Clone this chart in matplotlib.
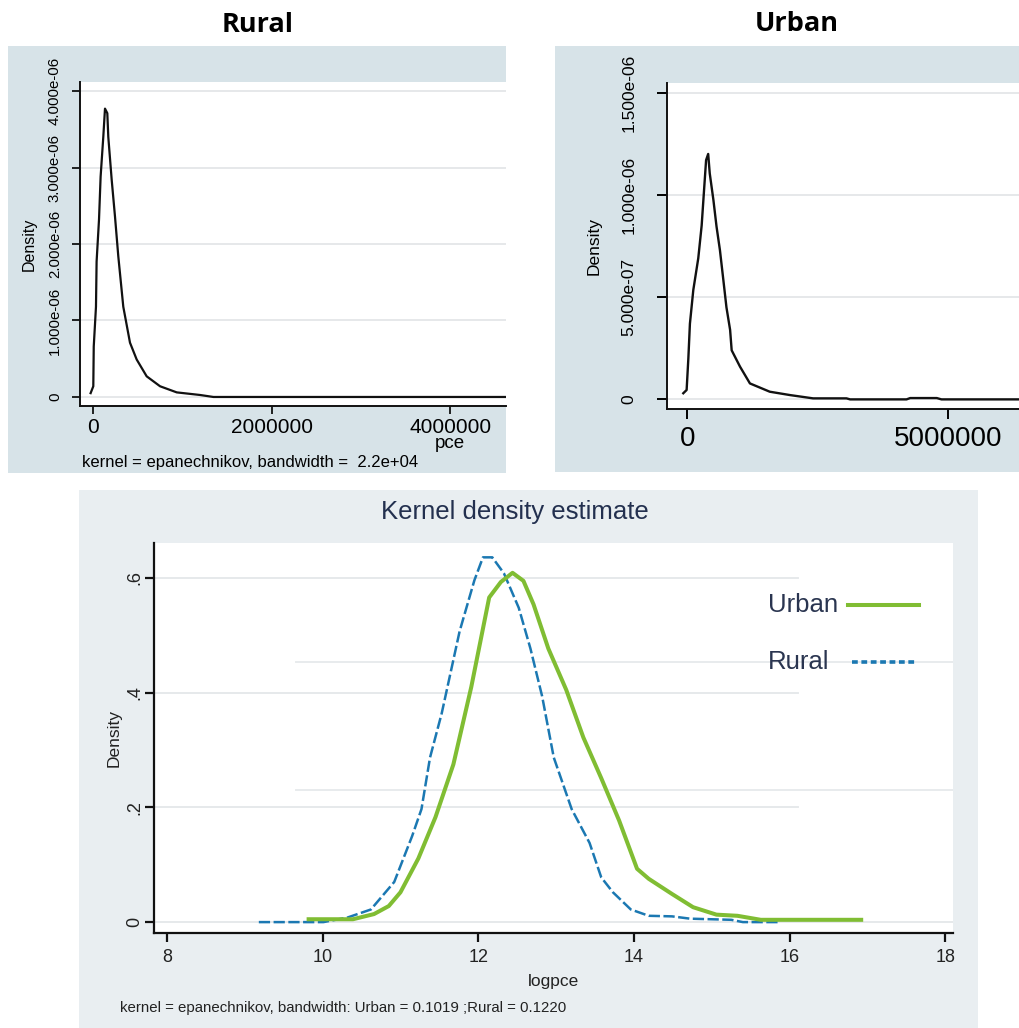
import matplotlib
matplotlib.use("Agg")
import matplotlib.pyplot as plt
from matplotlib.patches import Rectangle
from matplotlib.lines import Line2D

plt.rcParams['font.family'] = ['Liberation Sans', 'DejaVu Sans']

# ---------------- data ----------------
# Rural kernel density of per-capita expenditure (pce)
rural_pce = [-30000, 0, 5000, 30000, 37000, 64000, 82000, 112000, 131000, 157000,
             168000, 206000, 243000, 280000, 336000, 411000, 486000, 598000, 748000,
             935000, 1196000, 1346000, 4700000]
rural_den = [0.05, 0.14, 0.66, 1.18, 1.77, 2.32, 2.88, 3.40, 3.77, 3.71,
             3.40, 2.84, 2.36, 1.84, 1.18, 0.71, 0.49, 0.27, 0.14,
             0.06, 0.026, 0.0, 0.0]  # x 1e-6

# Urban kernel density of per-capita expenditure (pce)
urban_pce = [-77000, -13000, 20000, 50000, 115000, 210000, 275000, 320000, 360000,
             400000, 430000, 500000, 560000, 625000, 690000, 750000, 820000, 850000,
             1010000, 1200000, 1580000, 1970000, 2410000, 3050000, 3120000, 4200000,
             4270000, 4780000, 4870000, 6400000]
urban_den = [0.03, 0.046, 0.2, 0.37, 0.535, 0.69, 0.85, 1.02, 1.17,
             1.20, 1.105, 0.975, 0.845, 0.73, 0.585, 0.45, 0.34, 0.24,
             0.16, 0.078, 0.0375, 0.021, 0.005, 0.005, 0.0, 0.0,
             0.0065, 0.0065, 0.0, 0.0]  # x 1e-6

# Kernel density of log pce, both areas
urban_log = [9.82, 10.39, 10.66, 10.85, 11.0, 11.23, 11.45, 11.68, 11.91, 12.14,
             12.29, 12.44, 12.58, 12.71, 12.90, 13.13, 13.35, 13.58, 13.81, 14.04,
             14.19, 14.49, 14.76, 15.06, 15.33, 15.63, 16.92]
urban_log_den = [0.005, 0.005, 0.014, 0.028, 0.052, 0.111, 0.183, 0.275, 0.41, 0.566,
                 0.593, 0.609, 0.595, 0.554, 0.477, 0.405, 0.322, 0.251, 0.177, 0.093,
                 0.0755, 0.049, 0.026, 0.013, 0.011, 0.004, 0.004]

rural_log = [9.18, 10.01, 10.32, 10.62, 10.92, 11.15, 11.27, 11.38, 11.53, 11.76,
             11.95, 12.06, 12.18, 12.33, 12.52, 12.67, 12.82, 12.97, 13.20, 13.43,
             13.58, 13.73, 13.96, 14.19, 14.49, 14.72, 15.25, 15.40, 15.86]
rural_log_den = [0.0, 0.0, 0.008, 0.022, 0.07, 0.15, 0.197, 0.287, 0.364, 0.507,
                 0.596, 0.636, 0.636, 0.608, 0.548, 0.477, 0.394, 0.287, 0.197, 0.138,
                 0.078, 0.052, 0.022, 0.011, 0.010, 0.006, 0.004, 0.0, 0.0]

rural_yticks = [0, 1e-6, 2e-6, 3e-6, 4e-6]
rural_yticklabels = ['0', '1.000e-06', '2.000e-06', '3.000e-06', '4.000e-06']
rural_xticks = [0, 2000000, 4000000]
rural_xticklabels = ['0', '2000000', '4000000']

urban_yticks = [0, 5e-7, 1e-6, 1.5e-6]
urban_yticklabels = ['0', '5.000e-07', '1.000e-06', '1.500e-06']
urban_xticks = [0, 5000000]
urban_xticklabels = ['0', '5000000']

log_xticks = [8, 10, 12, 14, 16, 18]
log_yticks = [0, 0.2, 0.4, 0.6]
log_yticklabels = ['0', '.2', '.4', '.6']

URBAN_GREEN = '#80bd33'
RURAL_BLUE = '#1b78b2'

# ---------------- layout helpers ----------------
W, H = 1020, 1028
fig = plt.figure(figsize=(W / 100, H / 100), dpi=100)
fig.patch.set_facecolor('white')


def px_axes(x0, y0, x1, y1):
    """Axes from pixel box (left, top, right, bottom)."""
    return fig.add_axes([x0 / W, 1 - y1 / H, (x1 - x0) / W, (y1 - y0) / H])


def px_rect(x0, y0, x1, y1, color):
    fig.add_artist(Rectangle((x0 / W, 1 - y1 / H), (x1 - x0) / W, (y1 - y0) / H,
                             transform=fig.transFigure, facecolor=color,
                             edgecolor='none', zorder=0))


def px_text(x, y, s, **kw):
    return fig.text(x / W, 1 - y / H, s, **kw)


TOP_BG = '#d7e3e8'
BOT_BG = '#e9eef1'
GRID = '#e1e4e6'

px_rect(8, 46, 506, 473, TOP_BG)
px_rect(555, 46, 1020, 472, TOP_BG)
px_rect(79, 490, 978, 1028, BOT_BG)

px_text(258, 25, 'Rural', family='Open Sans', weight='bold',
        fontsize=19.5, ha='center', va='center')
px_text(797, 24, 'Urban', family='Open Sans', weight='bold',
        fontsize=19.5, ha='center', va='center')


def style_top(ax):
    for s in ('top', 'right'):
        ax.spines[s].set_visible(False)
    for s in ('left', 'bottom'):
        ax.spines[s].set_linewidth(1.4)
        ax.spines[s].set_color('#111111')
    ax.set_facecolor('white')
    ax.grid(axis='y', color=GRID, linewidth=1.2)
    ax.set_axisbelow(True)


# ---------------- Rural (pce) ----------------
ax1 = px_axes(80, 82, 506, 406)
style_top(ax1)
ax1.plot(rural_pce, [v * 1e-6 for v in rural_den], color='#111111', lw=1.6)
ax1.set_xlim(-149000, 4624000)
ax1.set_ylim(-0.118e-6, 4.118e-6)
ax1.set_yticks(rural_yticks)
ax1.set_yticklabels(rural_yticklabels, rotation=90, va='center', fontsize=10.8)
ax1.set_xticks(rural_xticks)
ax1.set_xticklabels(rural_xticklabels, fontsize=15)
ax1.tick_params(axis='y', length=6, width=1.2, pad=7)
ax1.tick_params(axis='x', length=6, width=1.2, pad=3)
ax1.set_ylabel('Density', fontsize=11.5, labelpad=8)
px_text(450, 444, 'pce', fontsize=13.5, ha='center', va='center')
px_text(82, 462, 'kernel = epanechnikov, bandwidth =  2.2e+04',
        fontsize=12, ha='left', va='center')

# ---------------- Urban (pce) ----------------
ax2 = px_axes(667, 83, 1020, 409)
style_top(ax2)
ax2.plot(urban_pce, [v * 1e-6 for v in urban_den], color='#111111', lw=1.7)
ax2.set_xlim(-389000, 6374000)
ax2.set_ylim(-0.047e-6, 1.547e-6)
ax2.set_yticks(urban_yticks)
ax2.set_yticklabels(urban_yticklabels, rotation=90, va='center', fontsize=12.5)
ax2.set_xticks(urban_xticks)
ax2.set_xticklabels(urban_xticklabels, fontsize=20)
ax2.tick_params(axis='y', length=7, width=1.4, pad=15)
ax2.tick_params(axis='x', length=7, width=1.4, pad=5)
ax2.set_ylabel('Density', fontsize=12.5, labelpad=14)

# ---------------- log pce, both areas ----------------
ax3 = px_axes(154, 543, 953, 933)
for s in ('top', 'right'):
    ax3.spines[s].set_visible(False)
for s in ('left', 'bottom'):
    ax3.spines[s].set_linewidth(1.6)
    ax3.spines[s].set_color('#111111')
ax3.set_facecolor('white')
ax3.set_xlim(7.833, 18.10)
ax3.set_ylim(-0.019, 0.661)

for yv in log_yticks[1:]:
    ax3.axhline(yv, xmin=0, xmax=0.806, color='#e6e9eb', lw=1.4, zorder=0)
ax3.axhline(0, color='#e6e9eb', lw=1.4, zorder=0)
for yv in (0.454, 0.230):
    ax3.axhline(yv, xmin=0.178, xmax=1.0, color='#e8ebed', lw=1.4, zorder=0)

urban_line, = ax3.plot(urban_log, urban_log_den, color=URBAN_GREEN, lw=2.9,
                       solid_joinstyle='round', zorder=3)
rural_line, = ax3.plot(rural_log, rural_log_den, color=RURAL_BLUE, lw=1.8,
                       zorder=2)
rural_line.set_dashes((4.5, 1.4))

ax3.set_xticks(log_xticks)
ax3.set_xticklabels([str(v) for v in log_xticks], fontsize=13)
ax3.set_yticks(log_yticks)
ax3.set_yticklabels(log_yticklabels, rotation=90, va='center', fontsize=13)
ax3.tick_params(axis='both', length=6.5, width=1.6, colors='#111111')
ax3.tick_params(axis='x', pad=5, labelcolor='#222222')
ax3.tick_params(axis='y', pad=1.5, labelcolor='#222222')
ax3.set_xlabel('logpce', fontsize=12.5, color='#222222', labelpad=6)
ax3.set_ylabel('Density', fontsize=12.5, color='#222222', labelpad=3)

px_text(515, 512, 'Kernel density estimate', fontsize=18.5,
        color='#23304f', ha='center', va='center')
px_text(120, 1008,
        'kernel = epanechnikov, bandwidth: Urban = 0.1019 ;Rural = 0.1220',
        fontsize=10.8, color='#222222', ha='left', va='center')

# legend: label on the left, line sample on the right
LEG_TXT = '#2a3550'
px_text(768, 605, 'Urban', fontsize=18.5, color=LEG_TXT, ha='left', va='center')
px_text(768, 662, 'Rural', fontsize=18.5, color=LEG_TXT, ha='left', va='center')
fig.add_artist(Line2D([848 / W, 919 / W], [1 - 605 / H, 1 - 605 / H],
                      transform=fig.transFigure, color=URBAN_GREEN, lw=2.9))
fig.add_artist(Line2D([852 / W, 917 / W], [1 - 662 / H, 1 - 662 / H],
                      transform=fig.transFigure, color=RURAL_BLUE, lw=2.6,
                      dashes=(1.6, 1.0)))

fig.savefig('out.png', dpi=100)
